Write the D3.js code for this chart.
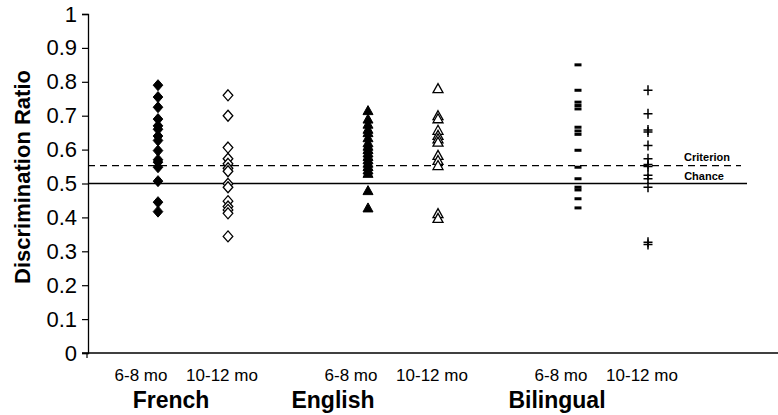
<!DOCTYPE html>
<html>
<head>
<script src="https://cdn.jsdelivr.net/npm/d3@7"></script>
<style>
  body { margin: 0; background: #fff; }
  svg { font-family: "Liberation Sans", Arial, sans-serif; }
</style>
</head>
<body>
<div id="chart"></div>
<script>
// data
const groups = ["French", "English", "Bilingual"];
const ages = ["6-8 mo", "10-12 mo"];
const yTicks = [0, 0.1, 0.2, 0.3, 0.4, 0.5, 0.6, 0.7, 0.8, 0.9, 1];

const french68 = [0.79, 0.755, 0.725, 0.69, 0.67, 0.66, 0.64, 0.627, 0.597, 0.57, 0.563, 0.548, 0.507, 0.445, 0.417];
const french1012 = [0.76, 0.70, 0.606, 0.573, 0.558, 0.545, 0.536, 0.499, 0.489, 0.448, 0.432, 0.422, 0.412, 0.344];
const english68 = [0.715, 0.69, 0.675, 0.66, 0.65, 0.635, 0.62, 0.61, 0.60, 0.59, 0.58, 0.57, 0.56, 0.55, 0.54, 0.53, 0.479, 0.428];
const english1012 = [0.78, 0.70, 0.691, 0.657, 0.642, 0.632, 0.622, 0.583, 0.568, 0.553, 0.411, 0.397];
const bilingual68 = [0.85, 0.775, 0.74, 0.73, 0.72, 0.666, 0.655, 0.645, 0.598, 0.548, 0.514, 0.489, 0.481, 0.455, 0.428];
const bilingual1012 = [0.775, 0.706, 0.658, 0.652, 0.612, 0.573, 0.556, 0.55, 0.524, 0.514, 0.489, 0.327, 0.32];

const chance = 0.5;
const criterion = 0.553;

const series = [
  {group: "French", age: "6-8 mo", values: french68, shape: "diamond", fill: true},
  {group: "French", age: "10-12 mo", values: french1012, shape: "diamond", fill: false},
  {group: "English", age: "6-8 mo", values: english68, shape: "triangle", fill: true},
  {group: "English", age: "10-12 mo", values: english1012, shape: "triangle", fill: false},
  {group: "Bilingual", age: "6-8 mo", values: bilingual68, shape: "dash", fill: true},
  {group: "Bilingual", age: "10-12 mo", values: bilingual1012, shape: "cross", fill: false}
];

const width = 778, height = 415;
const margin = {top: 14, right: 0, bottom: 62, left: 88};

const svg = d3.select("#chart").append("svg")
  .attr("width", width).attr("height", height);

const y = d3.scaleLinear().domain([0, 1]).range([height - margin.bottom, margin.top]);

// groups are 210px apart, ages +-35 inside a group
const xg = d3.scaleBand().domain(groups).range([88, 718]);
const xa = d3.scalePoint().domain(ages).range([-35, 35]);
const xPos = (g, a) => xg(g) + xg.bandwidth() / 2 + xa(a);

// y axis
const yAxis = svg.append("g")
  .attr("transform", `translate(${margin.left},0)`)
  .call(d3.axisLeft(y).tickValues(yTicks).tickFormat(d3.format("~g")).tickSize(6).tickPadding(5));
yAxis.select(".domain").attr("stroke", "#000").attr("stroke-width", 1.3);
yAxis.selectAll(".tick line").attr("stroke", "#000").attr("stroke-width", 1.2);
yAxis.selectAll(".tick text").attr("font-size", 22).attr("fill", "#000")
  .attr("font-family", "Liberation Sans, Arial, sans-serif");

// x axis line
svg.append("line")
  .attr("x1", margin.left - 6).attr("x2", width)
  .attr("y1", y(0)).attr("y2", y(0))
  .attr("stroke", "#000").attr("stroke-width", 1.3);
svg.append("line")
  .attr("x1", margin.left - 1).attr("x2", margin.left - 1)
  .attr("y1", y(0)).attr("y2", y(0) + 5)
  .attr("stroke", "#000").attr("stroke-width", 1.2);

// reference lines
svg.append("line")
  .attr("x1", margin.left).attr("x2", 747)
  .attr("y1", y(chance)).attr("y2", y(chance))
  .attr("stroke", "#000").attr("stroke-width", 1.3);
svg.append("line")
  .attr("x1", margin.left).attr("x2", 741)
  .attr("y1", y(criterion)).attr("y2", y(criterion))
  .attr("stroke", "#000").attr("stroke-width", 1.3)
  .attr("stroke-dasharray", "7,5");

svg.append("text").attr("x", 707).attr("y", y(criterion) - 5)
  .attr("text-anchor", "middle").attr("font-size", 11).attr("font-weight", "bold")
  .text("Criterion");
svg.append("text").attr("x", 704).attr("y", y(chance) - 4)
  .attr("text-anchor", "middle").attr("font-size", 11).attr("font-weight", "bold")
  .text("Chance");

// markers
const shapes = {
  diamond: "M0,-5.5L4.8,0L0,5.5L-4.8,0Z",
  triangle: "M0,-5L5,4L-5,4Z"
};

series.forEach(s => {
  const cx = xPos(s.group, s.age);
  const g = svg.append("g");
  const pts = g.selectAll("g").data(s.values).join("g")
    .attr("transform", d => `translate(${cx},${y(d)})`);
  if (s.shape === "diamond" || s.shape === "triangle") {
    pts.append("path").attr("d", shapes[s.shape])
      .attr("fill", s.fill ? "#000" : "#fff")
      .attr("stroke", "#000").attr("stroke-width", s.fill ? 1 : 1.3);
  } else if (s.shape === "dash") {
    pts.append("rect").attr("x", -3.5).attr("y", -1.5).attr("width", 7).attr("height", 3).attr("fill", "#000");
  } else {
    pts.append("path").attr("d", "M-4.5,0H4.5M0,-5V5")
      .attr("stroke", "#000").attr("stroke-width", 1.5);
  }
});

// category labels
const labelOff = {"6-8 mo": -52, "10-12 mo": 29};
groups.forEach(gname => {
  ages.forEach(a => {
    svg.append("text")
      .attr("x", xg(gname) + xg.bandwidth() / 2 + labelOff[a])
      .attr("y", 381).attr("text-anchor", "middle").attr("font-size", 17)
      .text(a);
  });
});
const groupOff = {French: -22, English: -70, Bilingual: -56};
groups.forEach(gname => {
  svg.append("text")
    .attr("x", xg(gname) + xg.bandwidth() / 2 + groupOff[gname])
    .attr("y", 408).attr("text-anchor", "middle").attr("font-size", 23).attr("font-weight", "bold")
    .text(gname);
});

// y title
svg.append("text")
  .attr("transform", `translate(30,177) rotate(-90)`)
  .attr("text-anchor", "middle").attr("font-size", 22).attr("font-weight", "bold")
  .text("Discrimination Ratio");
</script>
</body>
</html>
